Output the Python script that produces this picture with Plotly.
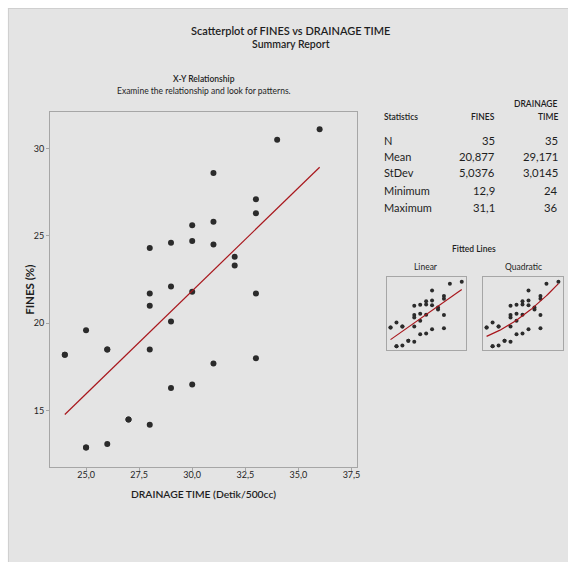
import numpy as np
import plotly.graph_objects as go

# ---- data ----
drainage_time = [36, 34, 31, 33, 33, 30, 31, 29, 30, 28, 31, 32, 32, 28, 29, 30, 33, 28,
                 29, 25, 26, 28, 24, 33, 31, 29, 30, 27, 28, 25, 26, 24, 25, 26, 27]
fines = [31.1, 30.5, 28.6, 27.1, 26.3, 25.6, 25.8, 24.6, 24.7, 24.3, 24.5, 23.8, 23.3, 21.7,
         22.1, 21.8, 21.7, 21.0, 20.1, 19.6, 18.5, 18.5, 18.2, 18.0, 17.7, 16.3, 16.5, 14.5,
         14.2, 12.9, 13.1, 18.2, 12.9, 18.5, 14.5]

stat_names = ["N", "Mean", "StDev", "Minimum", "Maximum"]
stat_fines = ["35", "20,877", "5,0376", "12,9", "31,1"]
stat_drain = ["35", "29,171", "3,0145", "24", "36"]

x_ticks = [25, 27.5, 30, 32.5, 35, 37.5]
y_ticks = [15, 20, 25, 30]

W, H = 572, 562
FONT = "Lato, Liberation Sans, sans-serif"
TXT = "#1e1e1e"
RED = "#a8161c"
DOT = "#2b2b2b"


def fx(p):
    return p / W


def fy(p):
    return 1 - p / H


x = np.array(drainage_time, dtype=float)
y = np.array(fines, dtype=float)
lin = np.polyfit(x, y, 1)
quad = np.polyfit(x, y, 2)
xl = np.array([x.min(), x.max()])
xq = np.linspace(x.min(), x.max(), 60)

fig = go.Figure()

# main scatter
fig.add_trace(go.Scatter(x=drainage_time, y=fines, mode="markers",
                         marker=dict(color=DOT, size=6), xaxis="x", yaxis="y",
                         showlegend=False, hoverinfo="x+y"))
fig.add_trace(go.Scatter(x=xl, y=np.polyval(lin, xl), mode="lines",
                         line=dict(color=RED, width=1.2), xaxis="x", yaxis="y",
                         showlegend=False))
# linear inset
fig.add_trace(go.Scatter(x=drainage_time, y=fines, mode="markers",
                         marker=dict(color=DOT, size=4), xaxis="x2", yaxis="y2",
                         showlegend=False))
fig.add_trace(go.Scatter(x=xl, y=np.polyval(lin, xl), mode="lines",
                         line=dict(color=RED, width=1.2), xaxis="x2", yaxis="y2",
                         showlegend=False))
# quadratic inset
fig.add_trace(go.Scatter(x=drainage_time, y=fines, mode="markers",
                         marker=dict(color=DOT, size=4), xaxis="x3", yaxis="y3",
                         showlegend=False))
fig.add_trace(go.Scatter(x=xq, y=np.polyval(quad, xq), mode="lines",
                         line=dict(color=RED, width=1.2), xaxis="x3", yaxis="y3",
                         showlegend=False))

axis_line = dict(showline=True, linecolor="#a6a6a6", linewidth=1, mirror=True,
                 showgrid=False, zeroline=False)

inset_common = dict(showline=True, linecolor="#a6a6a6", linewidth=1, mirror=True,
                    showgrid=False, zeroline=False, showticklabels=False, ticks="")

fig.update_layout(
    width=W, height=H,
    margin=dict(l=0, r=0, t=0, b=0),
    paper_bgcolor="white",
    plot_bgcolor="white",
    separators=",.",
    font=dict(family=FONT, color=TXT),
    xaxis=dict(domain=[fx(50.3), fx(359.3)], range=[23.3, 37.75],
               tickvals=x_ticks, tickformat=".1f", ticks="outside", ticklen=3,
               ticklabelstandoff=-4,
               tickcolor="#a6a6a6", tickfont=dict(size=9, color=TXT), **axis_line),
    yaxis=dict(domain=[fy(466.7), fy(111.7)], range=[11.8, 32.1],
               tickvals=y_ticks, ticks="outside", ticklen=3,
               tickcolor="#a6a6a6", tickfont=dict(size=9, color=TXT), **axis_line),
    xaxis2=dict(domain=[fx(390), fx(469.3)], range=[23.45, 36.72], anchor="y2", **inset_common),
    yaxis2=dict(domain=[fy(350), fy(277.3)], range=[11.86, 32.34], anchor="x2", **inset_common),
    xaxis3=dict(domain=[fx(486.7), fx(566.7)], range=[23.45, 36.72], anchor="y3", **inset_common),
    yaxis3=dict(domain=[fy(350), fy(277.3)], range=[11.86, 32.34], anchor="x3", **inset_common),
)

# grey report panel with faint top / left border
fig.add_shape(type="rect", xref="paper", yref="paper", x0=fx(8), x1=1, y0=0, y1=fy(8.5),
              fillcolor="#e4e4e4", line=dict(width=0), layer="below")
fig.add_shape(type="line", xref="paper", yref="paper", x0=fx(8), x1=1, y0=fy(8.5), y1=fy(8.5),
              line=dict(color="#cfcfcf", width=1), layer="below")
fig.add_shape(type="line", xref="paper", yref="paper", x0=fx(8.5), x1=fx(8.5), y0=0, y1=fy(8),
              line=dict(color="#cfcfcf", width=1), layer="below")

ann = []


def text(t, px_, py_, size, xanchor="center", weight=400, angle=0):
    ann.append(dict(text=t, x=fx(px_), y=fy(py_), xref="paper", yref="paper",
                    xanchor=xanchor, yanchor="middle", showarrow=False,
                    textangle=angle,
                    font=dict(size=size, color=TXT, family=FONT, weight=weight)))


text("Scatterplot of FINES vs DRAINAGE TIME", 293, 30, 11, weight=600)
text("Summary Report", 293, 44, 10.5, weight=600)
text("X-Y Relationship", 205, 79, 8.5, weight=600)
text("Examine the relationship and look for patterns.", 205, 91, 8.5)
text("DRAINAGE TIME (Detik/500cc)", 205, 494, 10.3, weight=600)
text("FINES (%)", 29, 290, 11.5, weight=700, angle=-90)

# statistics table
text("Statistics", 385, 117, 8.5, xanchor="left", weight=600)
text("FINES", 501, 117, 8.5, xanchor="right", weight=600)
text("DRAINAGE", 564, 104, 8.5, xanchor="right", weight=600)
text("TIME", 564, 117, 8.5, xanchor="right", weight=600)
row_y = [140, 156.5, 173, 190, 207]
for name, a, b, ry in zip(stat_names, stat_fines, stat_drain, row_y):
    text(name, 385, ry, 11, xanchor="left")
    text(a, 501, ry, 11.3, xanchor="right")
    text(b, 564, ry, 11.3, xanchor="right")

text("Fitted Lines", 477, 249, 8.5, weight=600)
text("Linear", 429, 267, 8.5)
text("Quadratic", 527, 267, 8.5)

fig.update_layout(annotations=ann)
fig.write_html("out.html",
               config={"displayModeBar": False},
               post_script="document.body.style.margin='0';"
                           "document.body.style.overflow='hidden';"
                           "document.documentElement.style.overflow='hidden';")
